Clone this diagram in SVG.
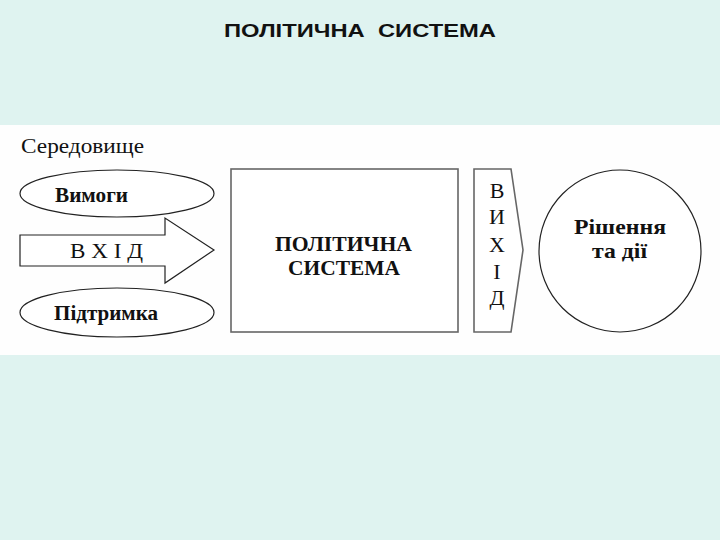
<svg xmlns="http://www.w3.org/2000/svg" width="720" height="540" viewBox="0 0 720 540">
<style>
.serif{font-family:"Liberation Serif","DejaVu Serif",serif;fill:#111}
.b{font-weight:bold}
.shape{fill:#fff;stroke:#222;stroke-width:1.2}
.gray{fill:#fff;stroke:#666;stroke-width:1.6}
</style>
<rect x="0" y="0" width="720" height="540" fill="#dff3f0"/>
<rect x="0" y="125" width="720" height="230" fill="#fefefe"/>
<text x="224" y="37" xml:space="preserve" textLength="272" lengthAdjust="spacingAndGlyphs" style="font-family:'Liberation Sans',Arial,sans-serif;font-weight:bold;font-size:18px;fill:#111">ПОЛІТИЧНА  СИСТЕМА</text>
<text id="env" class="serif" x="21" y="153" font-size="20" textLength="123" lengthAdjust="spacingAndGlyphs">Середовище</text>
<g id="vymogy">
<ellipse class="shape" cx="117" cy="193.5" rx="97" ry="23.5"/>
<text class="serif b" x="55" y="202" font-size="20" textLength="73" lengthAdjust="spacingAndGlyphs">Вимоги</text>
</g>
<g id="vkhid">
<polygon class="shape" points="20,235 165,235 165,218 214,250 165,283 165,266 20,266"/>
<text class="serif" x="70" y="258" font-size="20" textLength="73" lengthAdjust="spacingAndGlyphs">В Х І Д</text>
</g>
<g id="pidtrymka">
<ellipse class="shape" cx="117" cy="312.5" rx="97" ry="24.5"/>
<text class="serif b" x="54" y="320" font-size="20" textLength="104" lengthAdjust="spacingAndGlyphs">Підтримка</text>
</g>
<g id="system">
<rect class="gray" x="231" y="169" width="227" height="163"/>
<text class="serif b" x="275" y="251" font-size="20" textLength="137" lengthAdjust="spacingAndGlyphs">ПОЛІТИЧНА</text>
<text class="serif b" x="288" y="275" font-size="20" textLength="112" lengthAdjust="spacingAndGlyphs">СИСТЕМА</text>
</g>
<g id="vykhid">
<polygon class="gray" points="474,169 511,169 523,250 511,332 474,332"/>
<g class="serif" font-size="22" text-anchor="middle">
<text x="497" y="198">В</text>
<text x="497" y="224">И</text>
<text x="497" y="252">Х</text>
<text x="497" y="279">І</text>
<text x="497" y="305">Д</text>
</g>
</g>
<g id="rishennia">
<circle class="shape" cx="620" cy="251" r="81"/>
<text class="serif b" x="574" y="234" font-size="21" textLength="92" lengthAdjust="spacingAndGlyphs">Рішення</text>
<text class="serif b" x="592" y="258" font-size="21" textLength="55" lengthAdjust="spacingAndGlyphs">та дії</text>
</g>
<g id="connectors"></g>
</svg>
